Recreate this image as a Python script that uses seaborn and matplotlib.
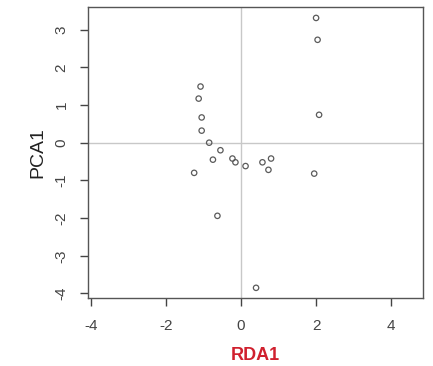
import matplotlib
matplotlib.use("Agg")
import matplotlib.pyplot as plt
import seaborn as sns
import pandas as pd

# scores
rda1 = [2.00, 2.04, 2.08, 1.95, -1.08, -1.13, -1.05, -1.05, -0.85, -0.55,
        -0.75, -0.23, -0.15, 0.12, 0.57, 0.80, 0.73, -1.25, -0.63, 0.40]
pca1 = [3.31, 2.73, 0.74, -0.82, 1.49, 1.17, 0.67, 0.32, 0.00, -0.20,
        -0.45, -0.42, -0.52, -0.62, -0.52, -0.42, -0.72, -0.80, -1.94, -3.85]
x_ticks = [-4, -2, 0, 2, 4]
y_ticks = [-4, -3, -2, -1, 0, 1, 2, 3]

df = pd.DataFrame({"RDA1": rda1, "PCA1": pca1})

sns.set_style("white")
plt.rcParams["font.family"] = ["Liberation Sans", "DejaVu Sans"]

fig = plt.figure(figsize=(4.33, 3.66), dpi=100)
ax = fig.add_axes([88 / 433, 1 - 298 / 366, 335 / 433, 291 / 366])

ax.axhline(0, color="#c8c8c8", lw=1, zorder=0)
ax.axvline(0, color="#c8c8c8", lw=1, zorder=0)
sns.scatterplot(data=df, x="RDA1", y="PCA1", ax=ax, marker="o", s=15,
                facecolor="none", edgecolor="#5a5a5a", linewidth=0.9, zorder=3)

ax.set_xlim(-4.08, 4.85)
ax.set_ylim(-4.12, 3.60)
ax.set_xticks(x_ticks)
ax.set_yticks(y_ticks)
ax.set_xticklabels([str(t) for t in x_ticks])
ax.set_yticklabels([str(t) for t in y_ticks], rotation=90, va="center")
ax.tick_params(axis="both", direction="out", length=6, width=1,
               color="#444444", labelcolor="#444444", labelsize=11,
               bottom=True, left=True)
ax.tick_params(axis="x", pad=9)
ax.tick_params(axis="y", pad=8)

for sp in ax.spines.values():
    sp.set_color("#555555")
    sp.set_linewidth(1)

ax.set_xlabel("RDA1", color="#d0202e", fontsize=13, fontweight="bold", labelpad=10)
ax.set_ylabel("PCA1", color="#222222", fontsize=14, labelpad=6)

fig.savefig("out.png", dpi=100)
